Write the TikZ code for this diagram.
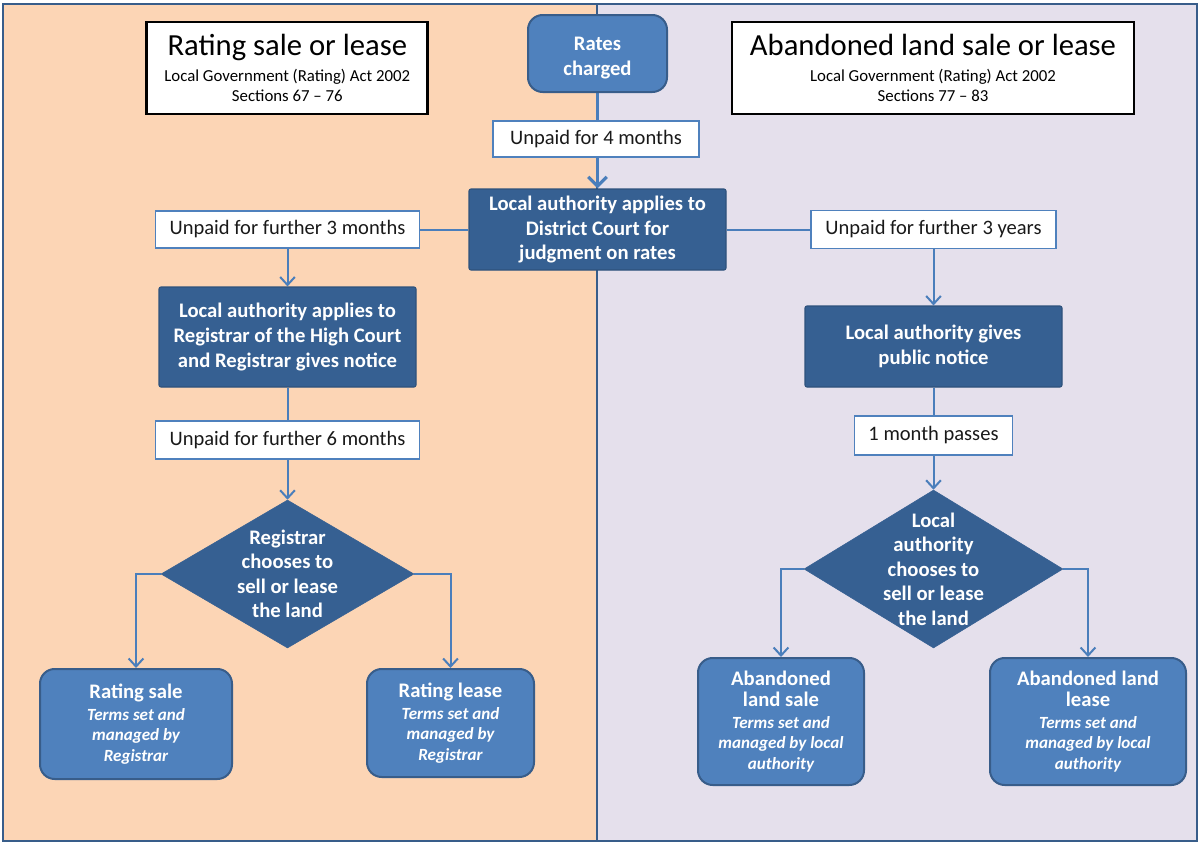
\documentclass[tikz,border=0pt]{standalone}
\usepackage{fontspec}
\setmainfont{Carlito}
\usetikzlibrary{shapes.geometric,arrows.meta,backgrounds}
\definecolor{peach}{HTML}{FCD5B5}
\definecolor{lav}{HTML}{E5E0EC}
\definecolor{framec}{HTML}{385D8A}
\definecolor{darkbox}{HTML}{366092}
\definecolor{midbox}{HTML}{4F81BD}
\definecolor{midborder}{HTML}{385D8A}
\definecolor{connc}{HTML}{4A7EBB}
\begin{document}
\begin{tikzpicture}[x=0.75pt,y=-0.75pt,
  titlebox/.style={draw=black, line width=2pt, fill=white, inner sep=0pt, align=center, text=black,
    font=\fontsize{12.6}{15}\selectfont},
  lbl/.style={draw=midbox, line width=1.1pt, fill=white, inner sep=0pt, text=black!90,
    font=\fontsize{15.4}{18.4}\selectfont},
  darkn/.style={draw=darkbox!85!black, line width=0.8pt, fill=darkbox, text=white, align=center,
    inner sep=0pt, rounded corners=1.5pt, font=\bfseries\fontsize{15.5}{18.4}\selectfont},
  roundn/.style={draw=midborder, line width=1.5pt, fill=midbox, text=white, align=center,
    inner sep=0pt, rounded corners=11pt, font=\bfseries\fontsize{15.5}{18.4}\selectfont},
  endn/.style={roundn, font=\bfseries\itshape\fontsize{12.8}{15.4}\selectfont},
  dia/.style={diamond, draw=darkbox, fill=darkbox, inner sep=0pt},
  diatext/.style={text=white, align=center, inner sep=0pt, font=\bfseries\fontsize{15.5}{18.4}\selectfont},
  conn/.style={draw=connc, line width=1.5pt, -{Straight Barb[length=6pt,width=11pt]}},
  mainconn/.style={draw=connc, line width=2.4pt, -{Straight Barb[length=7pt,width=14pt]}}
]
\useasboundingbox (0,0) rectangle (1200,843);
\begin{pgfonlayer}{background}
\fill[white] (0,0) rectangle (1200,843);
\fill[peach] (3,4) rectangle (597,841);
\fill[lav] (597,4) rectangle (1197,841);
\draw[framec, line width=2.2pt] (3,4) rectangle (1197,841);
\draw[framec, line width=2.2pt] (597,4) -- (597,841);
\end{pgfonlayer}

% titles
\node[titlebox, minimum width=210.75pt, minimum height=69pt] (tL) at (287.3,68)
  {{\fontsize{23}{27}\selectfont Rating sale or lease}\\[5pt] Local Government (Rating) Act 2002\\ Sections 67 – 76};
\node[titlebox, minimum width=301.5pt, minimum height=69pt] (tR) at (933,68)
  {{\fontsize{23}{27}\selectfont Abandoned land sale or lease}\\[5pt] Local Government (Rating) Act 2002\\ Sections 77 – 83};

% centre column
\node[roundn, minimum width=104.25pt, minimum height=57.75pt] (rates) at (597.5,53.5) {\rule{0pt}{17pt}Rates\\charged};
\node[darkn, minimum width=192.75pt, minimum height=60.75pt] (district) at (597.5,229.5)
  {Local authority applies to\\District Court for\\judgment on rates};
\node[lbl, minimum width=154.5pt, minimum height=27pt] (u4) at (596,139) {Unpaid for 4 months};

% left column
\node[darkn, minimum width=192.75pt, minimum height=75pt] (reg) at (287.5,337)
  {Local authority applies to\\Registrar of the High Court\\and Registrar gives notice};
\node[dia, minimum width=189.75pt, minimum height=111pt] (dL) at (287.5,574) {};
\node[diatext] (dLt) at (dL) {Registrar\\chooses to\\sell or lease\\the land};
\node[endn, minimum width=144pt, minimum height=82.5pt] (sale) at (136,724)
  {{\upshape\bfseries\fontsize{15.5}{18}\selectfont Rating sale}\\[1pt] Terms set and\\ managed by\\ Registrar};
\node[endn, minimum width=125.25pt, minimum height=81pt] (lease) at (450.5,723)
  {{\upshape\bfseries\fontsize{15.5}{18}\selectfont Rating lease}\\[1pt] Terms set and\\ managed by\\ Registrar};
\node[lbl, minimum width=198pt, minimum height=27.75pt] (u3m) at (287.5,229.5) {Unpaid for further 3 months};
\node[lbl, minimum width=198pt, minimum height=28.5pt] (u6) at (287.5,440) {Unpaid for further 6 months};

% right column
\node[darkn, minimum width=192.75pt, minimum height=60.75pt] (pub) at (933.5,346.5)
  {Local authority gives\\public notice};
\node[dia, minimum width=194.25pt, minimum height=118.5pt] (dR) at (933.5,569) {};
\node[diatext] (dRt) at (dR) {Local\\authority\\chooses to\\sell or lease\\the land};
\node[endn, minimum width=124.5pt, minimum height=95.25pt] (asale) at (781,721.5)
  {{\upshape\bfseries\fontsize{15.5}{18}\selectfont Abandoned}\\{\upshape\bfseries\fontsize{15.5}{18}\selectfont land sale}\\[1pt] Terms set and\\ managed by local\\ authority};
\node[endn, minimum width=147pt, minimum height=95.25pt] (alease) at (1088,721.5)
  {{\upshape\bfseries\fontsize{15.5}{18}\selectfont Abandoned land}\\{\upshape\bfseries\fontsize{15.5}{18}\selectfont lease}\\[1pt] Terms set and\\ managed by local\\ authority};
\node[lbl, minimum width=183.75pt, minimum height=28.5pt] (u3y) at (933.5,229.5) {Unpaid for further 3 years};
\node[lbl, minimum width=118.5pt, minimum height=29.25pt] (u1) at (933.5,435.5) {1 month passes};

% connectors
\begin{pgfonlayer}{background}
\draw[mainconn] (rates.south) -- (district.north);
\draw[conn] (district.west) -| (reg.north);
\draw[conn] (district.east) -| (pub.north);
\draw[conn] (reg.south) -- (dL.north);
\draw[conn] (pub.south) -- (dR.north);
\draw[conn] (dL.west) -| (sale.north);
\draw[conn] (dL.east) -| (lease.north);
\draw[conn] (dR.west) -| (asale.north);
\draw[conn] (dR.east) -| (alease.north);
\end{pgfonlayer}
\end{tikzpicture}
\end{document}
